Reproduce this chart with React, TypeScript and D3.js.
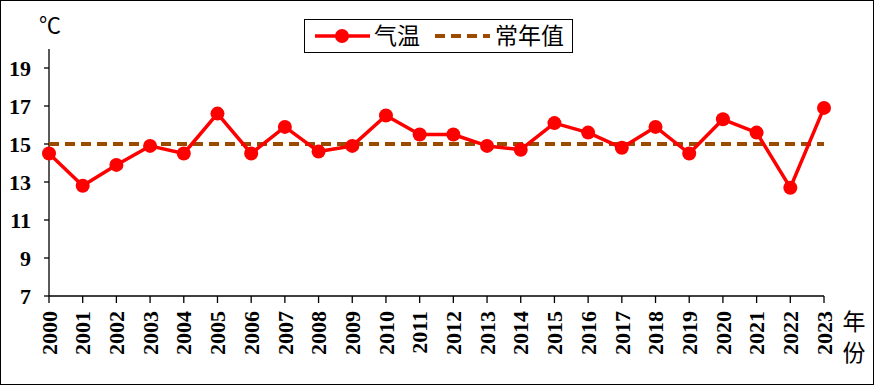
import React from "react";
import * as d3 from "d3";

const years = [2000, 2001, 2002, 2003, 2004, 2005, 2006, 2007, 2008, 2009, 2010, 2011,
  2012, 2013, 2014, 2015, 2016, 2017, 2018, 2019, 2020, 2021, 2022, 2023];
const temps = [14.5, 12.8, 13.9, 14.9, 14.5, 16.6, 14.5, 15.9, 14.6, 14.9, 16.5, 15.5,
  15.5, 14.9, 14.7, 16.1, 15.6, 14.8, 15.9, 14.5, 16.3, 15.6, 12.7, 16.9];
const normal = 15.0;
const yTicks = [7, 9, 11, 13, 15, 17, 19];

const W = 874;
const H = 385;

const App = () => {
  const x = d3.scaleLinear().domain([2000, 2023]).range([49, 824]);
  const y = d3.scaleLinear().domain([7, 20]).range([296, 49]);

  const line = d3.line<number>()
    .x((d, i) => x(years[i]))
    .y(d => y(d));

  const num = "'Liberation Serif', 'Times New Roman', serif";
  const cjk = "'Noto Sans CJK SC', sans-serif";

  return (
    <svg width={W} height={H} style={{ position: "absolute", left: 0, top: 0 }}>
      <rect x={0.5} y={0.5} width={W - 1} height={H - 1} fill="#fff" stroke="#000" strokeWidth={1} />

      {/* y axis */}
      <line x1={49} x2={49} y1={y(20)} y2={y(7)} stroke="#000" strokeWidth={1.3} />
      {yTicks.map(t => (
        <g key={t}>
          <line x1={44} x2={49} y1={y(t)} y2={y(t)} stroke="#000" strokeWidth={1.3} />
          <text x={31} y={y(t)} dy="0.35em" textAnchor="end" fontFamily={num} fontWeight="bold" fontSize={22}>{t}</text>
        </g>
      ))}
      <text x={50} y={33} textAnchor="middle" fontFamily={cjk} fontSize={22}>℃</text>

      {/* x axis */}
      <line x1={49} x2={824} y1={y(7)} y2={y(7)} stroke="#000" strokeWidth={1.3} />
      {years.map(yr => (
        <g key={yr}>
          <line x1={x(yr)} x2={x(yr)} y1={y(7)} y2={y(7) + 7} stroke="#000" strokeWidth={1.3} />
          <text transform={`translate(${x(yr)},${y(7) + 15}) rotate(-90)`} textAnchor="end" dy="0.35em"
            fontFamily={num} fontWeight="bold" fontSize={22}>{yr}</text>
        </g>
      ))}
      <text x={854} y={330} textAnchor="middle" fontFamily={cjk} fontSize={23}>年</text>
      <text x={854} y={361} textAnchor="middle" fontFamily={cjk} fontSize={23}>份</text>

      {/* normal line */}
      <line x1={x(2000)} x2={x(2023)} y1={y(normal)} y2={y(normal)} stroke="#9C4A00" strokeWidth={4} strokeDasharray="10,6" />

      {/* temperature */}
      <path d={line(temps) ?? ""} fill="none" stroke="#FF0000" strokeWidth={3.5} strokeLinejoin="round" />
      {temps.map((t, i) => (
        <circle key={i} cx={x(years[i])} cy={y(t)} r={7} fill="#FF0000" />
      ))}

      {/* legend */}
      <rect x={304.5} y={19.5} width={268} height={33} fill="#fff" stroke="#000" strokeWidth={1} />
      <line x1={315} x2={370} y1={36} y2={36} stroke="#FF0000" strokeWidth={3.5} />
      <circle cx={342} cy={36} r={7} fill="#FF0000" />
      <text x={374} y={36} dy="0.36em" fontFamily={cjk} fontSize={23}>气温</text>
      <line x1={435} x2={490} y1={36} y2={36} stroke="#9C4A00" strokeWidth={4} strokeDasharray="10,6" />
      <text x={495} y={36} dy="0.36em" fontFamily={cjk} fontSize={23}>常年值</text>
    </svg>
  );
};

export default App;
